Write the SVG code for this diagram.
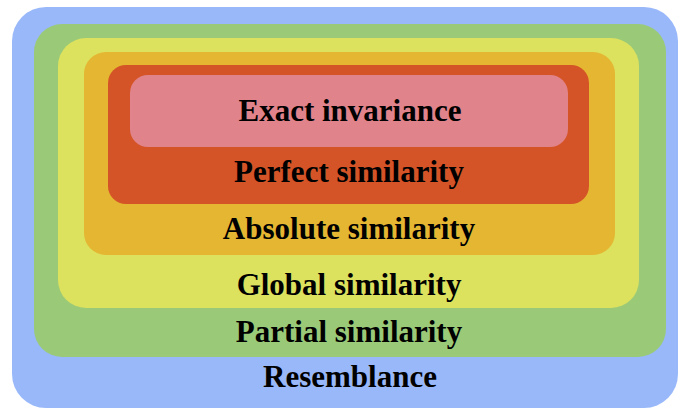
<svg xmlns="http://www.w3.org/2000/svg" width="678" height="409" viewBox="0 0 678 409">
<style>
text{font-family:"Liberation Serif","Times New Roman",serif;font-weight:bold;font-size:31px;fill:#000;text-anchor:middle}
</style>
<rect width="678" height="409" fill="#fff"/>
<g id="resemblance"><rect x="12" y="7" width="666" height="401" rx="34" fill="#99B8FA"/><text x="350" y="387">Resemblance</text></g>
<g id="partial"><rect x="34" y="24" width="632" height="333" rx="28" fill="#9ACA78"/><text x="349" y="342">Partial similarity</text></g>
<g id="global"><rect x="58" y="38" width="581" height="270" rx="28" fill="#DCE15E"/><text x="349" y="295">Global similarity</text></g>
<g id="absolute"><rect x="84" y="52" width="531" height="203" rx="22" fill="#E4B632"/><text x="349" y="239">Absolute similarity</text></g>
<g id="perfect"><rect x="108" y="65" width="481" height="139" rx="18" fill="#D45427"/><text x="349" y="182">Perfect similarity</text></g>
<g id="exact"><rect x="130" y="75" width="438" height="72" rx="18" fill="#E0838A"/><text x="350" y="121">Exact invariance</text></g>
<g id="connectors"/>
</svg>
